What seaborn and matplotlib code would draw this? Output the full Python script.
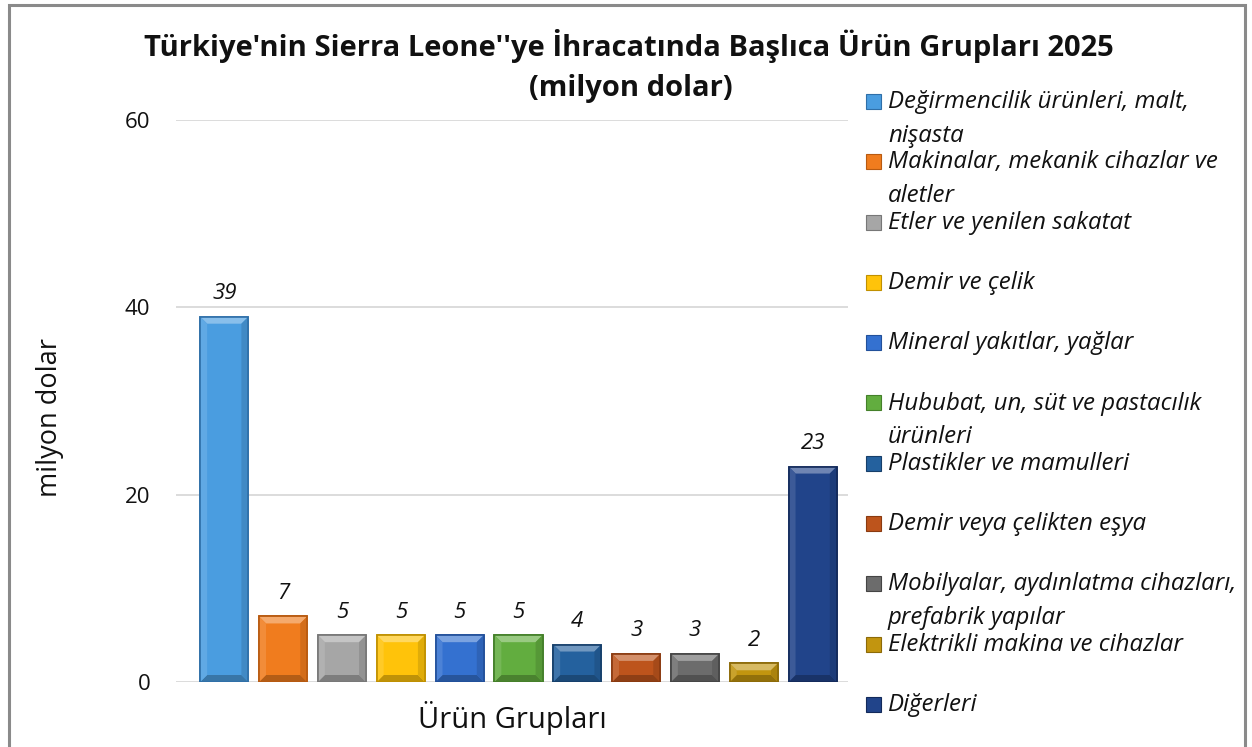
import matplotlib
matplotlib.use("Agg")
import matplotlib.pyplot as plt
from matplotlib.patches import Rectangle, Polygon
from matplotlib.colors import to_rgb
import seaborn as sns
import pandas as pd
import numpy as np

# data (million USD, 2025)
urunler = [
    "Değirmencilik ürünleri, malt,\nnişasta",
    "Makinalar, mekanik cihazlar ve\naletler",
    "Etler ve yenilen sakatat",
    "Demir ve çelik",
    "Mineral yakıtlar, yağlar",
    "Hububat, un, süt ve pastacılık\nürünleri",
    "Plastikler ve mamulleri",
    "Demir veya çelikten eşya",
    "Mobilyalar, aydınlatma cihazları,\nprefabrik yapılar",
    "Elektrikli makina ve cihazlar",
    "Diğerleri",
]
degerler = [39, 7, 5, 5, 5, 5, 4, 3, 3, 2, 23]
renkler = ["#4a9de0", "#f07c1e", "#a6a6a6", "#ffc30a", "#3471d0", "#62ad3f",
           "#24619e", "#bd541c", "#6c6c6c", "#c2950f", "#21448a"]
kenar = ["#2f6fa8", "#b85a10", "#777777", "#c09000", "#22509a", "#44802a",
         "#163f6a", "#8a3a10", "#444444", "#8c6a08", "#132a5a"]


def karistir(c, hedef, oran):
    c = np.array(to_rgb(c))
    return tuple(c + (np.array(hedef) - c) * oran)


df = pd.DataFrame({"urun": urunler, "deger": degerler})

sns.set_theme(style="white")
plt.rcParams["font.family"] = ["Open Sans", "DejaVu Sans"]

fig = plt.figure(figsize=(12.52, 7.47), dpi=100)
ax = fig.add_axes([0.1406, 0.0870, 0.5367, 0.7524])

sns.barplot(data=df, x="urun", y="deger", hue="urun", palette=renkler,
            saturation=1, width=0.82, dodge=False, legend=False, ax=ax)

ax.set_ylim(0, 60)
ax.set_yticks([0, 20, 40, 60])
ax.set_xlim(-0.82, 10.6)
ax.set_xticks([])

# bevel look of the Excel bars (faces derived from each drawn bar)
px_x = ax.transData.transform((1, 0))[0] - ax.transData.transform((0, 0))[0]
px_y = ax.transData.transform((0, 1))[1] - ax.transData.transform((0, 0))[1]
bx, by = 7 / px_x, 7 / px_y

for i, cont in enumerate(ax.containers):
    for bar in cont:
        bar.set_edgecolor(kenar[i])
        bar.set_linewidth(1.2)
        x0, w, h = bar.get_x(), bar.get_width(), bar.get_height()
        x1 = x0 + w
        d = min(by, h / 2.5)
        faces = [
            ([(x0, h), (x1, h), (x1 - bx, h - d), (x0 + bx, h - d)], karistir(renkler[i], (1, 1, 1), 0.35)),
            ([(x0, 0), (x1, 0), (x1 - bx, d), (x0 + bx, d)], karistir(renkler[i], (0, 0, 0), 0.25)),
            ([(x0, 0), (x0, h), (x0 + bx, h - d), (x0 + bx, d)], karistir(renkler[i], (1, 1, 1), 0.12)),
            ([(x1, 0), (x1, h), (x1 - bx, h - d), (x1 - bx, d)], karistir(renkler[i], (0, 0, 0), 0.12)),
        ]
        for pts, col in faces:
            ax.add_patch(Polygon(pts, closed=True, facecolor=col, edgecolor="none", zorder=bar.get_zorder() + 0.1))
        ax.add_patch(Rectangle((x0, 0), w, h, fill=False, edgecolor=kenar[i], lw=1.2,
                               zorder=bar.get_zorder() + 0.2))
    ax.bar_label(cont, padding=9, fontsize=16, fontstyle="italic", color="#111111")

ax.yaxis.grid(True, color="#d9d9d9", linewidth=1.3)
ax.set_axisbelow(True)
for s in ax.spines.values():
    s.set_visible(False)
ax.tick_params(axis="y", length=0, labelsize=16, pad=18.5, colors="#111111")
ax.set_ylabel("milyon dolar", fontsize=19.5, labelpad=44, color="#111111")
ax.yaxis.label.set_y(0.4715)
ax.set_xlabel("Ürün Grupları", fontsize=21, labelpad=14, color="#111111")

W, H = fig.get_size_inches() * fig.dpi
fig.text(0.502, 1 - 56 / H, "Türkiye'nin Sierra Leone''ye İhracatında Başlıca Ürün Grupları 2025",
         ha="center", va="baseline", fontsize=21, fontweight="bold", color="#111111")
fig.text(0.504, 1 - 96 / H, "(milyon dolar)",
         ha="center", va="baseline", fontsize=21, fontweight="bold", color="#111111")

# legend drawn as in the Excel original: one slot per entry
y0, adim = 102, 60.3
for i, (lab, c, k) in enumerate(zip(urunler, renkler, kenar)):
    yc = y0 + i * adim
    fig.add_artist(Rectangle((866 / W, 1 - (yc + 7) / H), 15 / W, 15 / H,
                             transform=fig.transFigure, facecolor=c, edgecolor=k, lw=0.8))
    fig.text(888 / W, 1 - (yc - 12) / H, lab, ha="left", va="top", fontsize=17.3,
             fontstyle="italic", linespacing=1.55, color="#111111")

fig.add_artist(Rectangle((0.0072, -0.02), 0.9876, 1.013, transform=fig.transFigure,
                         fill=False, edgecolor="#8a8a8a", lw=2.2))

fig.savefig("out.png", dpi=100)
